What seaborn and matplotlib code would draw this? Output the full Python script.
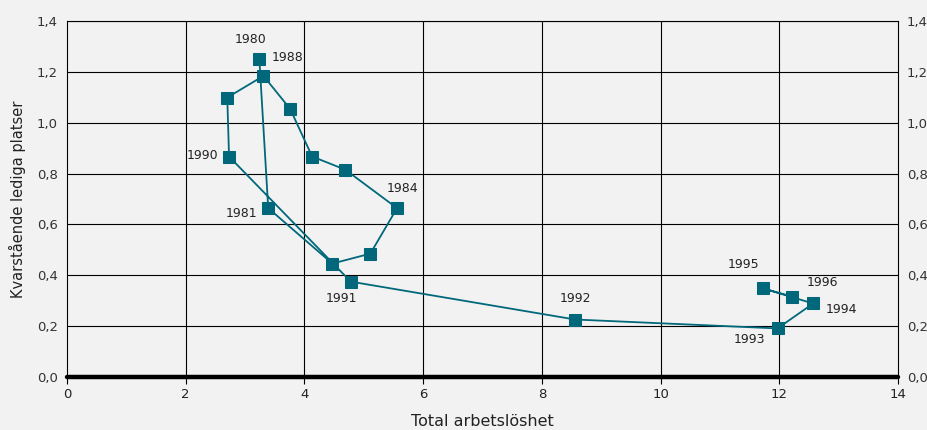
import pandas as pd
import seaborn as sns
import matplotlib.pyplot as plt
from matplotlib.ticker import FuncFormatter

# Beveridge curve data, 1980-1996
years = [1980, 1981, 1982, 1983, 1984, 1985, 1986, 1987, 1988,
         1989, 1990, 1991, 1992, 1993, 1994, 1995, 1996]
unemployment = [3.24, 3.39, 4.47, 5.11, 5.56, 4.69, 4.13, 3.76, 3.31,
                2.70, 2.73, 4.78, 8.56, 11.97, 12.57, 11.73, 12.22]
vacancies = [1.252, 0.664, 0.446, 0.485, 0.664, 0.815, 0.867, 1.054, 1.184,
             1.099, 0.867, 0.375, 0.226, 0.191, 0.289, 0.348, 0.316]

x_ticks = [0, 2, 4, 6, 8, 10, 12, 14]
y_ticks = [0.0, 0.2, 0.4, 0.6, 0.8, 1.0, 1.2, 1.4]

# which years get a label, and offset (points) / alignment
labels = {
    1980: (-6, 14, "center"),
    1988: (6, 13, "left"),
    1981: (-8, -4, "right"),
    1984: (4, 14, "center"),
    1990: (-8, 1, "right"),
    1991: (-7, -12, "center"),
    1992: (0, 15, "center"),
    1993: (-9, -8, "right"),
    1994: (9, -4, "left"),
    1995: (-14, 17, "center"),
    1996: (10, 10, "left"),
}

df = pd.DataFrame({"year": years, "x": unemployment, "y": vacancies})

sns.set_style("white")
plt.rcParams["font.family"] = ["DejaVu Sans"]
bg = "#f2f2f2"
teal = "#00687a"

fig = plt.figure(figsize=(9.28, 4.3), dpi=100, facecolor=bg)
ax = fig.add_axes([0.0722, 0.1233, 0.8955, 0.8279])
ax.set_facecolor(bg)

for xt in x_ticks[1:-1]:
    ax.axvline(xt, color="black", lw=0.8, zorder=1)
for yt in y_ticks[1:]:
    ax.axhline(yt, color="black", lw=0.8, zorder=1)
ax.axhline(0, color="black", lw=3.2, zorder=2, clip_on=False)

sns.lineplot(data=df, x="x", y="y", sort=False, estimator=None, ax=ax,
             color=teal, lw=1.3, marker="s", markersize=9.2,
             markeredgecolor=teal, zorder=3)

for yr, xv, yv in zip(years, unemployment, vacancies):
    if yr in labels:
        dx, dy, ha = labels[yr]
        ax.annotate(str(yr), (xv, yv), xytext=(dx, dy), textcoords="offset points",
                    ha=ha, va="center", fontsize=9, color="#222222")

ax.set_xlim(0, 14)
ax.set_ylim(0, 1.4)
ax.set_xticks(x_ticks)
ax.set_yticks(y_ticks)
ax.yaxis.set_major_formatter(FuncFormatter(lambda v, p: f"{v:.1f}".replace(".", ",")))
ax.tick_params(axis="x", bottom=True, length=5, width=0.8, color="black",
               labelsize=9.5, pad=3, labelcolor="#222222")
ax.tick_params(axis="y", left=False, right=False, labelleft=True, labelright=True,
               labelsize=9.5, pad=3, labelcolor="#333333")

for sp in ax.spines.values():
    sp.set_color("black")
    sp.set_linewidth(0.8)

ax.set_xlabel("Total arbetslöshet", fontsize=11.5, color="#222222", labelpad=9)
ax.set_ylabel("Kvarstående lediga platser", fontsize=10.5, color="#222222", labelpad=8)

fig.savefig("out.png", dpi=100, facecolor=bg)
